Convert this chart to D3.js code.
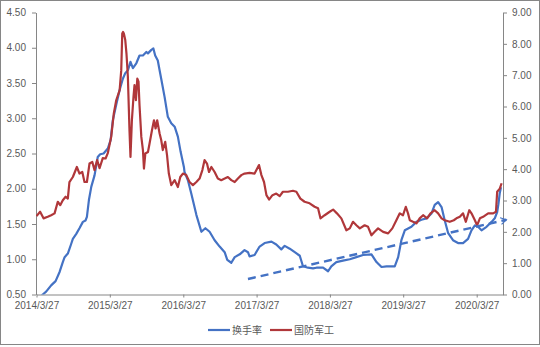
<!DOCTYPE html>
<html>
<head>
<meta charset="utf-8">
<script src="https://cdn.jsdelivr.net/npm/d3@7"></script>
<style>
  body { margin: 0; background: #fff; }
  svg { display: block; }
</style>
</head>
<body>
<svg id="chart" width="540" height="347"></svg>
<script>
// Axis tick labels
const dateTicks = ["2014/3/27", "2015/3/27", "2016/3/27", "2017/3/27", "2018/3/27", "2019/3/27", "2020/3/27"];
const leftTicks = [0.5, 1.0, 1.5, 2.0, 2.5, 3.0, 3.5, 4.0, 4.5];
const rightTicks = [0, 1, 2, 3, 4, 5, 6, 7, 8, 9];
const seriesNames = ["换手率", "国防军工"];

// 换手率 (left axis)
const turnover = [
  ["2014-03-27",0.40],["2014-04-27",0.50],["2014-05-14",0.54],["2014-06-08",0.63],["2014-06-30",0.69],
  ["2014-07-20",0.82],["2014-08-05",0.96],["2014-08-14",1.03],["2014-08-30",1.08],["2014-09-16",1.22],
  ["2014-09-24",1.29],["2014-10-11",1.36],["2014-10-27",1.44],["2014-11-13",1.53],["2014-11-26",1.55],
  ["2014-12-03",1.60],["2014-12-13",1.84],["2014-12-25",2.03],["2015-01-10",2.19],["2015-01-26",2.45],
  ["2015-02-07",2.49],["2015-02-24",2.50],["2015-03-17",2.57],["2015-03-31",2.69],["2015-04-11",2.97],
  ["2015-04-28",3.19],["2015-05-15",3.40],["2015-05-31",3.56],["2015-06-12",3.64],["2015-06-25",3.68],
  ["2015-07-08",3.80],["2015-07-20",3.71],["2015-08-06",3.78],["2015-08-22",3.89],["2015-09-08",3.89],
  ["2015-09-25",3.94],["2015-10-03",3.92],["2015-10-20",3.97],["2015-10-30",3.99],["2015-11-08",3.89],
  ["2015-11-21",3.82],["2015-11-30",3.68],["2015-12-08",3.56],["2015-12-25",3.30],["2016-01-10",3.02],
  ["2016-01-27",2.93],["2016-02-13",2.88],["2016-02-29",2.74],["2016-03-14",2.52],["2016-03-30",2.31],
  ["2016-04-02",2.24],["2016-04-19",2.12],["2016-05-06",1.93],["2016-05-31",1.63],["2016-06-25",1.39],
  ["2016-07-15",1.44],["2016-08-05",1.39],["2016-08-30",1.27],["2016-09-24",1.18],["2016-10-19",1.10],
  ["2016-11-01",0.99],["2016-11-21",0.95],["2016-12-08",1.03],["2017-01-02",1.07],["2017-01-26",1.13],
  ["2017-02-12",1.10],["2017-02-20",1.04],["2017-03-17",1.06],["2017-04-11",1.18],["2017-05-06",1.23],
  ["2017-06-09",1.25],["2017-07-03",1.21],["2017-07-28",1.14],["2017-08-14",1.19],["2017-09-08",1.15],
  ["2017-10-03",1.10],["2017-10-28",1.05],["2017-11-13",0.90],["2017-12-08",0.88],["2018-01-02",0.87],
  ["2018-01-19",0.88],["2018-02-21",0.88],["2018-03-18",0.83],["2018-04-03",0.90],["2018-04-28",0.96],
  ["2018-05-31",0.98],["2018-07-04",1.00],["2018-08-06",1.03],["2018-09-08",1.06],["2018-10-20",1.07],
  ["2018-11-14",0.96],["2018-12-09",0.89],["2019-01-03",0.90],["2019-02-13",0.90],["2019-03-02",1.03],
  ["2019-03-18",1.27],["2019-04-04",1.41],["2019-05-07",1.46],["2019-06-01",1.53],["2019-06-26",1.56],
  ["2019-07-21",1.58],["2019-08-15",1.65],["2019-08-31",1.77],["2019-09-17",1.81],["2019-10-04",1.74],
  ["2019-10-20",1.55],["2019-11-06",1.37],["2019-11-30",1.27],["2019-12-25",1.23],["2020-01-19",1.23],
  ["2020-02-13",1.29],["2020-03-01",1.41],["2020-03-18",1.48],["2020-04-03",1.46],["2020-04-20",1.41],
  ["2020-05-15",1.46],["2020-06-09",1.53],["2020-06-25",1.58],["2020-07-07",1.67],["2020-07-13",1.78],
  ["2020-07-20",1.94],["2020-07-26",2.02]
];

// 国防军工 (right axis)
const defense = [
  ["2014-03-27",2.50],["2014-04-14",2.64],["2014-05-01",2.43],["2014-05-22",2.48],["2014-06-08",2.53],
  ["2014-06-25",2.59],["2014-07-11",2.96],["2014-07-23",2.85],["2014-08-05",3.01],["2014-08-19",3.12],
  ["2014-08-30",3.06],["2014-09-07",3.59],["2014-09-24",3.75],["2014-10-14",4.07],["2014-10-27",3.86],
  ["2014-11-10",3.91],["2014-11-21",3.59],["2014-12-03",3.59],["2014-12-16",4.18],["2014-12-30",4.23],
  ["2015-01-10",3.97],["2015-01-23",4.29],["2015-02-04",4.03],["2015-02-20",4.35],["2015-03-06",4.34],
  ["2015-03-17",4.51],["2015-04-03",5.03],["2015-04-16",5.78],["2015-04-28",6.20],["2015-05-15",6.52],
  ["2015-05-23",7.16],["2015-05-28",8.33],["2015-06-01",8.38],["2015-06-05",8.33],["2015-06-12",8.12],
  ["2015-06-18",7.69],["2015-06-25",6.95],["2015-07-03",5.24],["2015-07-08",4.39],["2015-07-15",5.56],
  ["2015-07-23",6.31],["2015-07-28",6.68],["2015-08-04",6.20],["2015-08-11",6.89],["2015-08-17",6.79],
  ["2015-08-22",6.04],["2015-08-31",5.03],["2015-09-08",4.61],["2015-09-13",4.02],["2015-09-20",4.50],
  ["2015-10-03",4.55],["2015-10-11",4.82],["2015-10-23",5.24],["2015-11-02",5.56],["2015-11-10",5.30],
  ["2015-11-18",5.56],["2015-11-30",5.14],["2015-12-08",4.93],["2015-12-16",4.61],["2015-12-28",4.87],
  ["2016-01-06",4.45],["2016-01-15",3.86],["2016-01-27",3.49],["2016-02-13",3.65],["2016-02-29",3.43],
  ["2016-03-12",3.75],["2016-03-25",3.86],["2016-04-11",3.81],["2016-04-27",3.59],["2016-05-14",3.49],
  ["2016-05-31",3.59],["2016-06-16",3.70],["2016-06-30",3.97],["2016-07-11",4.29],["2016-07-23",4.18],
  ["2016-08-02",3.91],["2016-08-14",4.07],["2016-08-30",3.91],["2016-09-15",3.70],["2016-10-02",3.65],
  ["2016-10-19",3.70],["2016-11-04",3.75],["2016-11-21",3.65],["2016-12-08",3.59],["2016-12-24",3.70],
  ["2017-01-10",3.81],["2017-01-26",3.86],["2017-02-20",3.88],["2017-03-17",3.86],["2017-04-08",4.13],
  ["2017-04-20",3.81],["2017-05-03",3.59],["2017-05-15",3.17],["2017-05-28",3.03],["2017-06-14",3.17],
  ["2017-07-03",3.22],["2017-07-20",3.14],["2017-08-05",3.28],["2017-08-30",3.28],["2017-09-24",3.31],
  ["2017-10-11",3.28],["2017-10-31",3.06],["2017-11-21",2.96],["2017-12-16",2.91],["2018-01-10",2.80],
  ["2018-01-27",2.75],["2018-02-08",2.43],["2018-03-01",2.53],["2018-03-26",2.64],["2018-04-12",2.71],
  ["2018-05-01",2.59],["2018-05-23",2.43],["2018-06-17",2.05],["2018-07-04",2.11],["2018-07-20",2.32],
  ["2018-08-06",2.21],["2018-08-23",2.11],["2018-09-16",2.21],["2018-10-03",2.16],["2018-10-20",1.89],
  ["2018-11-05",2.00],["2018-11-22",2.11],["2018-12-17",2.00],["2019-01-11",1.95],["2019-02-01",2.11],
  ["2019-02-21",2.37],["2019-03-10",2.59],["2019-03-26",2.53],["2019-04-09",2.80],["2019-04-20",2.59],
  ["2019-04-29",2.37],["2019-05-15",2.32],["2019-06-01",2.27],["2019-06-17",2.43],["2019-07-04",2.53],
  ["2019-07-24",2.43],["2019-08-10",2.59],["2019-08-31",2.69],["2019-09-17",2.59],["2019-10-04",2.43],
  ["2019-10-20",2.37],["2019-11-14",2.32],["2019-12-04",2.37],["2019-12-17",2.43],["2020-01-03",2.48],
  ["2020-01-19",2.59],["2020-02-02",2.32],["2020-02-19",2.69],["2020-03-01",2.59],["2020-03-18",2.37],
  ["2020-03-29",2.21],["2020-04-12",2.43],["2020-04-28",2.48],["2020-05-23",2.59],["2020-06-17",2.59],
  ["2020-07-01",2.64],["2020-07-07",3.28],["2020-07-20",3.38],["2020-07-29",3.55]
];

// Rising turnover trend arrow (left axis units)
const trendArrow = [["2017-02-12",0.72],["2020-08-22",1.56]];

const BLUE = "#4472C4", RED = "#B0373A", AXIS = "#868686", TEXT = "#595959";
const parse = d3.timeParse("%Y-%m-%d");
const parseTick = d3.timeParse("%Y/%m/%d");
const toPts = arr => arr.map(([d, v]) => ({ date: parse(d), v }));

const svg = d3.select("#chart");
const plot = { left: 36, right: 503, top: 12.5, bottom: 294.5 };

const x = d3.scaleTime()
  .domain([parse("2014-03-27"), parse("2020-08-05")])
  .range([plot.left + 0.5, plot.right]);
const yL = d3.scaleLinear().domain([0.5, 4.5]).range([plot.bottom, plot.top]);
const yR = d3.scaleLinear().domain([0, 9]).range([plot.bottom, plot.top]);

// chart frame
svg.append("rect").attr("x", 0.5).attr("y", 0.5).attr("width", 539).attr("height", 344)
  .attr("fill", "#fff").attr("stroke", AXIS).attr("stroke-width", 1);

svg.append("clipPath").attr("id", "plotClip").append("rect")
  .attr("x", plot.left).attr("y", plot.top)
  .attr("width", plot.right - plot.left).attr("height", plot.bottom - plot.top);

const styleAxis = g => {
  g.selectAll("path.domain").attr("stroke", AXIS).attr("stroke-width", 1);
  g.selectAll(".tick line").attr("stroke", AXIS);
  g.selectAll(".tick text").attr("fill", TEXT)
    .style("font-family", "'Liberation Sans', Arial, sans-serif").style("font-size", "10px");
};

// left axis
svg.append("g").attr("transform", `translate(${plot.left},0)`)
  .call(d3.axisLeft(yL).tickValues(leftTicks).tickFormat(d3.format(".2f"))
    .tickSize(4).tickSizeOuter(0).tickPadding(6))
  .call(styleAxis);

// right axis
svg.append("g").attr("transform", `translate(${plot.right},0)`)
  .call(d3.axisRight(yR).tickValues(rightTicks).tickFormat(d3.format(".2f"))
    .tickSize(4).tickSizeOuter(0).tickPadding(5))
  .call(styleAxis);

// bottom axis
const tickDates = dateTicks.map(parseTick);
svg.append("g").attr("transform", `translate(0,${plot.bottom})`)
  .call(d3.axisBottom(x).tickValues(tickDates).tickFormat((d, i) => dateTicks[i])
    .tickSize(3).tickSizeOuter(0).tickPadding(4))
  .call(styleAxis);

const lineL = d3.line().x(d => x(d.date)).y(d => yL(d.v));
const lineR = d3.line().x(d => x(d.date)).y(d => yR(d.v));

const lines = svg.append("g").attr("clip-path", "url(#plotClip)");
lines.append("path").datum(toPts(turnover)).attr("d", lineL)
  .attr("fill", "none").attr("stroke", BLUE).attr("stroke-width", 2.2)
  .attr("stroke-linejoin", "round");
lines.append("path").datum(toPts(defense)).attr("d", lineR)
  .attr("fill", "none").attr("stroke", RED).attr("stroke-width", 2.2)
  .attr("stroke-linejoin", "round");

// trend arrow
svg.append("defs").append("marker")
  .attr("id", "arrowHead").attr("viewBox", "-8 -5 10 10")
  .attr("refX", 0).attr("refY", 0).attr("markerWidth", 4).attr("markerHeight", 4)
  .attr("markerUnits", "strokeWidth").attr("orient", "auto")
  .append("path").attr("d", "M-6,-3.5 L0,0 L-6,3.5")
  .attr("fill", "none").attr("stroke", BLUE).attr("stroke-width", 1.2);

svg.append("path").datum(toPts(trendArrow)).attr("d", lineL)
  .attr("fill", "none").attr("stroke", BLUE).attr("stroke-width", 2.4)
  .attr("stroke-dasharray", "8,5").attr("marker-end", "url(#arrowHead)");

// legend
const legend = svg.append("g").style("font-family", "'Noto Sans CJK SC', sans-serif").style("font-size", "10px");
const legendItems = [
  { name: seriesNames[0], color: BLUE, x: 208 },
  { name: seriesNames[1], color: RED, x: 270 }
];
legendItems.forEach(it => {
  legend.append("line").attr("x1", it.x).attr("x2", it.x + 22).attr("y1", 330).attr("y2", 330)
    .attr("stroke", it.color).attr("stroke-width", 2.2);
  legend.append("text").attr("x", it.x + 24).attr("y", 333.5).attr("fill", TEXT).text(it.name);
});
</script>
</body>
</html>
